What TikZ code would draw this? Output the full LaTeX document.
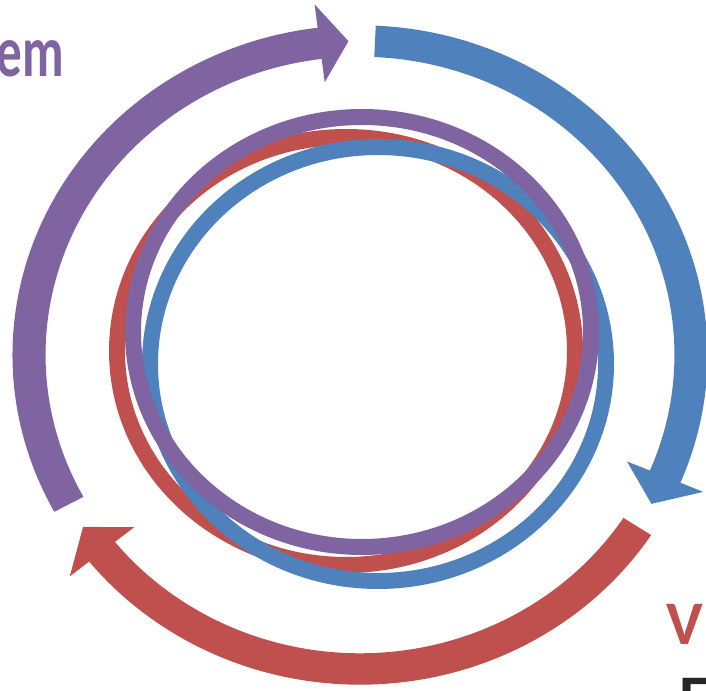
\documentclass[tikz,border=0pt]{standalone}
\usepackage{fontspec}
\setmainfont{Carlito}
\definecolor{cpurple}{HTML}{8064A2}
\definecolor{cblue}{HTML}{4F81BD}
\definecolor{cred}{HTML}{C0504D}
\definecolor{ctext}{HTML}{262626}
\newcommand\cycarrow[4]{% colour, tail angle, head base angle, tip angle
  \fill[#1] (#2:1.05pt) arc[start angle=#2,end angle=#3,radius=1.05pt]
    -- (#3:1.125pt) -- (#4:1pt) -- (#3:0.875pt) -- (#3:0.95pt)
    arc[start angle=#3,end angle=#2,radius=0.95pt] -- cycle;}
\tikzset{
  ring/.style={line width=16pt},
  lbl/.style={inner sep=0pt,font=\bfseries\fontsize{62}{62}\selectfont}
}
\begin{document}
\begin{tikzpicture}[x=1pt,y=1pt]
\useasboundingbox (0,0) rectangle (706,690);
\clip (0,0) rectangle (706,690);
% big cycle arrows
\begin{scope}[shift={(360,335)},xscale=331,yscale=314]
  \cycarrow{cpurple}{208.4}{97}{92}
  \cycarrow{cblue}{87.4}{-22.8}{-28.3}
  \cycarrow{cred}{-33.1}{-141.2}{-146.8}
\end{scope}
% inner rings
\draw[ring,cred] (346,339) ellipse [x radius=229pt,y radius=214pt];
\draw[ring,cblue] (378,326) ellipse [x radius=228pt,y radius=217pt];
\draw[ring,cpurple] (362,358) ellipse [x radius=229pt,y radius=215pt];
% labels
\node[lbl,text=cpurple,anchor=base east,font=\bfseries\fontsize{73}{73}\selectfont,xscale=0.7] (t1) at (64,613) {em};
\node[lbl,text=cred,anchor=base west] (t2) at (666,45) {V};
\node[lbl,text=ctext,anchor=base west] (t3) at (679,-28) {E};
\end{tikzpicture}
\end{document}
